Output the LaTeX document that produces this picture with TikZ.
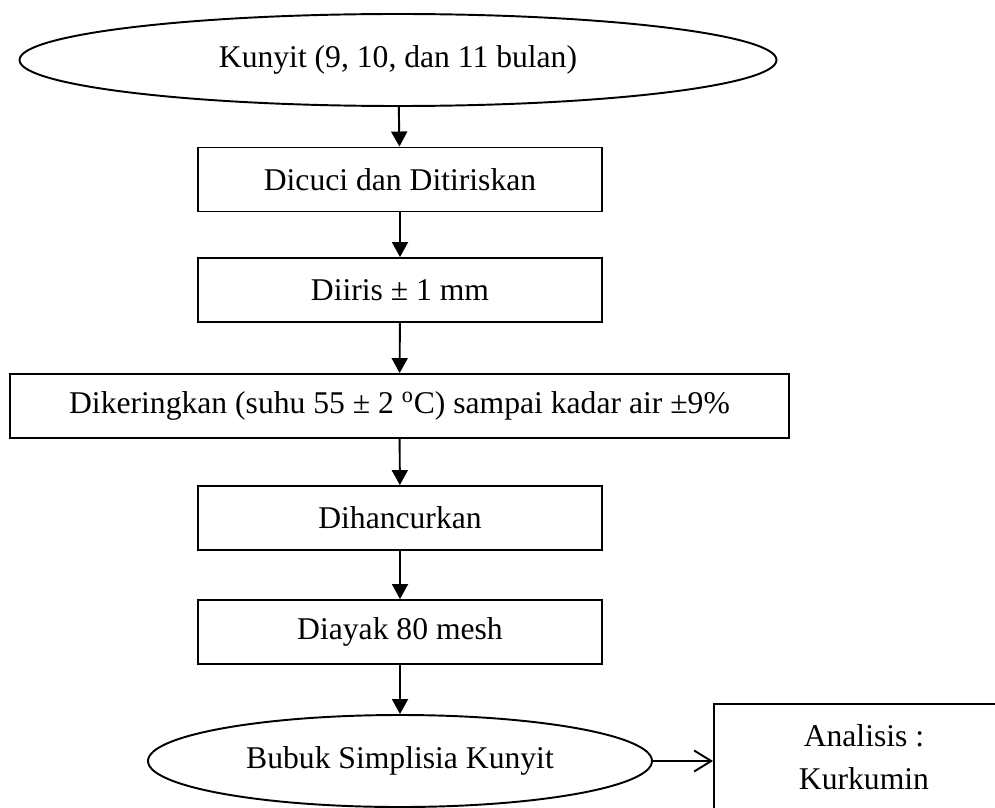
\documentclass[tikz,border=0pt]{standalone}
\usepackage{fontspec}
\setmainfont{Liberation Serif}
\usetikzlibrary{shapes.geometric,arrows.meta}

\begin{document}
\begin{tikzpicture}[line width=1.1pt,
    font=\fontsize{18}{24}\selectfont,
    step_box/.style={rectangle,draw,inner sep=0pt,minimum height=1.28cm},
    end_node/.style={ellipse,draw,inner sep=0pt,minimum height=1.84cm},
    flow/.style={-{Triangle[width=0.32cm,length=0.3cm]}}]
    \useasboundingbox (0,0) rectangle (19.9,-16.14);
    \node[end_node,minimum width=15.14cm] (kunyit) at (7.96,-1.2) {Kunyit (9, 10, dan 11 bulan)};
    \node[step_box,minimum width=8.08cm] (cuci) at (8,-3.59) {Dicuci dan Ditiriskan};
    \node[step_box,minimum width=8.08cm] (iris) at (8,-5.8) {Diiris ± 1 mm};
    \node[step_box,minimum width=15.58cm] (kering) at (7.99,-8.12) {Dikeringkan (suhu 55 ± 2 \textsuperscript{o}C) sampai kadar air ±9\%};
    \node[step_box,minimum width=8.08cm] (hancur) at (8,-10.36) {Dihancurkan};
    \node[step_box,minimum width=8.08cm] (ayak) at (8,-12.64) {Diayak 80 mesh};
    \node[end_node,minimum width=10.08cm] (bubuk) at (8,-15.22) {Bubuk Simplisia Kunyit};
    \node[rectangle,draw,anchor=north west,align=center,minimum width=6cm,
        inner xsep=0pt,inner ysep=0.42cm,text depth=2cm] (analisis) at (14.26,-14.06) {Analisis :\\Kurkumin};
    \draw[flow] (kunyit) -- (cuci);
    \draw[flow] (cuci) -- (iris);
    \draw[flow] (iris) -- (kering);
    \draw[flow] (kering) -- (hancur);
    \draw[flow] (hancur) -- (ayak);
    \draw[flow] (ayak) -- (bubuk);
    \draw[-{Straight Barb[length=0.34cm,width=0.42cm]}] (bubuk) -- (analisis.west |- bubuk);
\end{tikzpicture}
\end{document}
